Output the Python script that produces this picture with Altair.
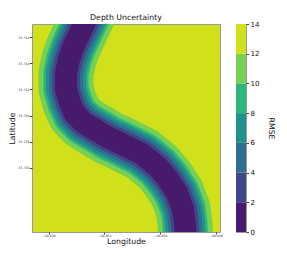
import altair as alt
import pandas as pd

# ---- data ----
# centre line of the survey track (lon, lat)
track_lon = [-80.65496, -80.65547, -80.65626, -80.65654, -80.65676, -80.65676,
             -80.65647, -80.65611, -80.65547, -80.65475, -80.65367, -80.65288,
             -80.65130, -80.65016, -80.64944, -80.64879, -80.64836, -80.64822,
             -80.64815]
track_lat = [33.76815, 33.76700, 33.76517, 33.76432, 33.76325, 33.76203,
             33.76096, 33.76012, 33.75943, 33.75897, 33.75828, 33.75790,
             33.75706, 33.75607, 33.75515, 33.75408, 33.75286, 33.75179,
             33.75041]
levels = [0, 2, 4, 6, 8, 10, 12]          # lower edge of each RMSE band
rmse_ticks = [0, 2, 4, 6, 8, 10, 12, 14]
lon_ticks = [-80.658, -80.656, -80.654, -80.652, -80.650, -80.648, -80.646]
lat_ticks = [33.756, 33.758, 33.760, 33.762, 33.764, 33.766]
lon_domain = [-80.6592, -80.6457]
lat_domain = [33.7511, 33.7670]

# ---- styles ----
band_colors = ["#481a6c", "#3f4788", "#2e6e8e", "#21918c", "#2fb47c", "#75d054", "#d0e11c"]
# stroke width (px) of the region below each contour level 2..12
band_widths = {12: 55, 10: 45, 8: 40, 6: 34, 4: 28, 2: 22}
FONT = "DejaVu Sans"
W, H = 188, 208

track = pd.DataFrame({"lon": track_lon, "lat": track_lat, "seq": range(len(track_lon))})

xscale = alt.Scale(domain=lon_domain, nice=False, zero=False)
yscale = alt.Scale(domain=lat_domain, nice=False, zero=False)

layers = []
first = True
for lvl in [12, 10, 8, 6, 4, 2]:
    color = band_colors[levels.index(lvl - 2)]
    if first:
        enc_x = alt.X("lon:Q", scale=xscale, title="Longitude",
                      axis=alt.Axis(values=lon_ticks, format=".3f", grid=False,
                                    labelFontSize=3, tickSize=2, labelPadding=0,
                                    titleFontSize=7.8, titleFontWeight="normal",
                                    titlePadding=0, domain=False, labelColor="#333",
                                    tickColor="#444", titleColor="#111", labelFlush=False))
        enc_y = alt.Y("lat:Q", scale=yscale, title="Latitude",
                      axis=alt.Axis(values=lat_ticks, format=".3f", grid=False,
                                    labelFontSize=3.2, tickSize=2.5, labelPadding=0.5,
                                    titleFontSize=7.8, titleFontWeight="normal",
                                    titlePadding=1, domain=False, labelColor="#333",
                                    tickColor="#444", titleColor="#111", labelFlush=False))
        first = False
    else:
        enc_x = alt.X("lon:Q", scale=xscale)
        enc_y = alt.Y("lat:Q", scale=yscale)
    layers.append(
        alt.Chart(track).mark_line(color=color, strokeWidth=band_widths[lvl],
                                   strokeJoin="round", strokeCap="butt", clip=True)
        .encode(x=enc_x, y=enc_y, order=alt.Order("seq:Q"))
    )

main = alt.layer(*layers).properties(
    width=W, height=H,
    title=alt.Title("Depth Uncertainty", fontSize=7.8, fontWeight="normal",
                    font=FONT, offset=2, color="#111"),
    view=alt.ViewBackground(fill=band_colors[-1], stroke="#999", strokeWidth=1),
)

bands = pd.DataFrame({"lo": levels, "hi": [v + 2 for v in levels]})
cbar = alt.Chart(bands).mark_rect().encode(
    y=alt.Y("lo:Q", scale=alt.Scale(domain=[0, 14], nice=False),
            axis=alt.Axis(orient="right", values=rmse_ticks, grid=False, domain=False,
                          labelFontSize=7, tickSize=2.5, labelPadding=1.5,
                          title="RMSE", titleAngle=90, titleFontSize=7.8,
                          titleFontWeight="normal", titlePadding=8, titleColor="#111",
                          labelColor="#111", tickColor="#444", labelFlush=False)),
    y2="hi:Q",
    color=alt.Color("lo:O", scale=alt.Scale(domain=levels, range=band_colors), legend=None),
).properties(width=10, height=H,
             view=alt.ViewBackground(stroke="#999", strokeWidth=1))

chart = alt.hconcat(main, cbar, spacing=12).properties(
    padding={"left": 0, "top": 5, "right": 0, "bottom": 0}
).configure(font=FONT).configure_axis(labelFont=FONT, titleFont=FONT)

chart.save("out.html", embed_options={"renderer": "svg", "actions": False})
